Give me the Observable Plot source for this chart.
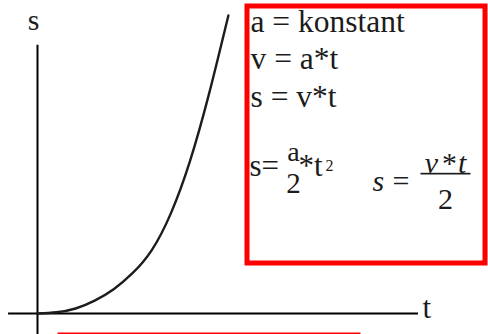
<!DOCTYPE html>
<html>
<head>
<meta charset="utf-8">
<script src="https://cdn.jsdelivr.net/npm/d3@7"></script>
<script src="https://cdn.jsdelivr.net/npm/@observablehq/plot@0.6"></script>
<style>
  html, body { margin: 0; padding: 0; background: #fff; }
  #chart { width: 488px; height: 334px; overflow: hidden; }
</style>
</head>
<body>
<div id="chart"></div>
<script>
// ---- data ----
const tValues = [0, 0.5, 1, 1.5, 2, 2.5, 3, 3.5, 4, 4.5, 5.01];
const sValues = [0, 0.5, 2.1, 5.4, 10.2, 17.0, 26.6, 42.0, 63.8, 92.0, 125];
const axisLabels = ["s", "t"];
const formulaLines = ["a = konstant", "v = a*t", "s = v*t"];
const formulaA = ["s=", "a", "2", "*t", "2"];
const formulaB = ["s", "=", "v\u200A*\u200At", "2"];

const curve = tValues.map((t, i) => ({t, s: sValues[i]}));

const ink = "#1c1c1c";

function txt(label, dx, dy, opts = {}) {
  return Plot.text([label], {
    frameAnchor: "top-left", dx, dy,
    textAnchor: opts.anchor || "start", lineAnchor: "bottom",
    fontSize: opts.size || 30, fontFamily: "Liberation Serif",
    fontStyle: opts.italic ? "italic" : "normal",
    fill: ink
  });
}

const chart = Plot.plot({
  width: 488,
  height: 334,
  margin: 0,
  x: {domain: [0, 10], range: [37, 418], axis: null},
  y: {domain: [0, 125], range: [313, 15], axis: null},
  marks: [
    // axes
    Plot.ruleY([0], {x1: -0.76, x2: 10, stroke: "#000", strokeWidth: 2}),
    Plot.ruleX([0], {y1: -9.5, y2: 112.5, stroke: "#000", strokeWidth: 2}),
    // curve
    Plot.line(curve, {x: "t", y: "s", curve: "natural", stroke: ink, strokeWidth: 2.4}),
    // axis labels
    txt(axisLabels[0], 33, 29, {anchor: "middle"}),
    txt(axisLabels[1], 422, 317, {size: 31}),
    // red box
    Plot.frame({stroke: "#ff0000", strokeWidth: 5, insetLeft: 246.5, insetTop: 5.5, insetRight: 3.5, insetBottom: 71.5}),
    // red bar at bottom
    Plot.frame({stroke: "none", fill: "#ff0000", insetLeft: 57, insetRight: 128, insetTop: 332, insetBottom: 0}),
    // formulas
    txt(formulaLines[0], 250, 31, {size: 31.5}),
    txt(formulaLines[1], 250, 68, {size: 31.5}),
    txt(formulaLines[2], 250, 106, {size: 31.5}),
    txt(formulaA[0], 249, 175, {size: 31}),
    txt(formulaA[1], 293, 160, {anchor: "middle", size: 28}),
    txt(formulaA[2], 293, 192, {anchor: "middle", size: 29}),
    txt(formulaA[3], 298, 175, {size: 31}),
    txt(formulaA[4], 325, 170, {size: 16}),
    txt(formulaB[0], 372, 190, {italic: true}),
    txt(formulaB[1], 392, 190),
    txt(formulaB[2], 445, 172, {anchor: "middle", italic: true}),
    txt(formulaB[3], 445, 208, {anchor: "middle"}),
    Plot.frame({stroke: "none", fill: ink, insetLeft: 420, insetRight: 18, insetTop: 172.3, insetBottom: 160})
  ]
});
document.getElementById("chart").appendChild(chart);
</script>
</body>
</html>
